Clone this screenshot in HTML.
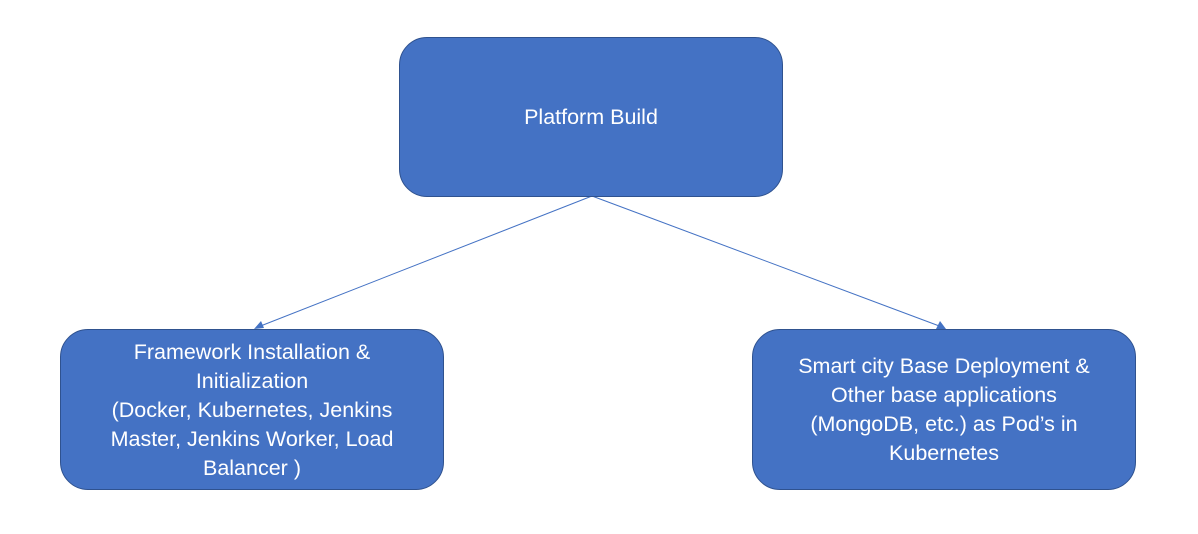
<!DOCTYPE html>
<html><head><style>
body{margin:0;width:1198px;height:534px;background:#fff;position:relative;overflow:hidden;font-family:"Liberation Sans",sans-serif;}
.b{position:absolute;background:#4472C4;border:1.3px solid #2F528F;border-radius:28px;box-sizing:border-box;color:#fff;display:flex;align-items:center;justify-content:center;text-align:center;font-size:21.5px;line-height:29px;}
</style></head><body>
<svg width="1198" height="534" style="position:absolute;left:0;top:0">
<line x1="592" y1="196" x2="258" y2="327" stroke="#4472C4" stroke-width="1"/>
<line x1="592" y1="196" x2="942" y2="327" stroke="#4472C4" stroke-width="1"/>
<polygon points="254,329 261,321 264,328" fill="#4472C4"/>
<polygon points="946,329 936,329 940,321" fill="#4472C4"/>
</svg>
<div class="b" style="left:399px;top:37px;width:384px;height:160px;">Platform Build</div>
<div class="b" style="left:60px;top:329px;width:384px;height:161px;padding-top:2px">Framework Installation &amp;<br>Initialization<br>(Docker, Kubernetes, Jenkins<br>Master, Jenkins Worker, Load<br>Balancer )</div>
<div class="b" style="left:752px;top:329px;width:384px;height:161px;">Smart city Base Deployment &amp;<br>Other base applications<br>(MongoDB, etc.) as Pod’s in<br>Kubernetes</div>
</body></html>
